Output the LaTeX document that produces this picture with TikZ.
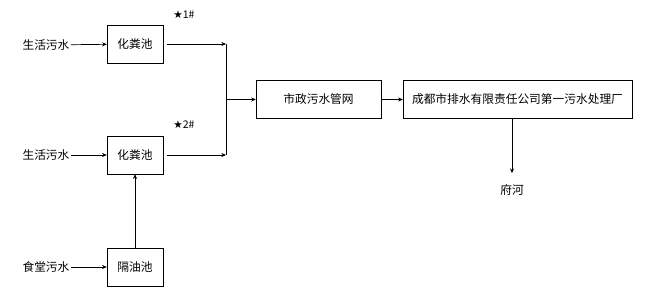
\documentclass[tikz,border=0pt]{standalone}
\usepackage{fontspec}
\setmainfont{Noto Sans CJK SC}
\newfontfamily\symfont{DejaVu Sans}
\usetikzlibrary{arrows.meta,positioning}

\begin{document}
\begin{tikzpicture}[
  x=0.03cm, y=-0.03cm,
  unit/.style={draw, thin, font=\normalsize, inner sep=2pt, minimum height=1.14cm},
  pool/.style={unit, minimum width=1.68cm},
  src/.style={font=\normalsize, inner sep=1pt},
  tag/.style={font=\small, inner sep=1pt},
  arr/.style={-{Stealth[length=4pt,width=3.5pt]}, semithick},
  ln/.style={semithick},
]
\useasboundingbox (0,0) rectangle (650,288);

%% ── SOURCES ──────────────────────────────────────────────────────────────────
\node[src] (dom1) at (46,45)  {生活污水};
\node[src] (dom2) at (46,155) {生活污水};
\node[src] (cant) at (46,267) {食堂污水};

%% ── PRE-TREATMENT ────────────────────────────────────────────────────────────
\node[pool] (sep1) at (135,44)  {化粪池};
\node[pool] (sep2) at (135,155) {化粪池};
\node[pool] (grease) at (135,267) {隔油池};
\node[tag] (pt1) at (184,15)  {{\symfont★}1\#};
\node[tag] (pt2) at (184,125) {{\symfont★}2\#};

%% ── MUNICIPAL + PLANT ────────────────────────────────────────────────────────
\node[unit, minimum width=3.75cm] (sewer) at (318.5,99.5) {市政污水管网};
\node[unit, minimum width=6.87cm] (plant) at (517.5,99.5) {成都市排水有限责任公司第一污水处理厂};
\node[src] (river) at (512,190) {府河};

\coordinate (j1) at (226,44);
\coordinate (j2) at (226,155);
\coordinate (jm) at (226,99.5);

%% ── ARROWS ───────────────────────────────────────────────────────────────────
\draw[arr] (dom1) -- (sep1);
\draw[arr] (dom2) -- (sep2);
\draw[arr] (cant) -- (grease);
\draw[arr] (grease) -- (sep2);
\draw[arr] ([xshift=3pt]sep1.east) -- (j1);
\draw[arr] ([xshift=3pt]sep2.east) -- (j2);
\draw[ln] (j1) -- (j2);
\draw[arr] (jm) -- (sewer);
\draw[arr] (sewer) -- (plant);
\draw[arr, shorten >=0.3cm] (plant.south -| river.north) -- (river.north);
\end{tikzpicture}
\end{document}
